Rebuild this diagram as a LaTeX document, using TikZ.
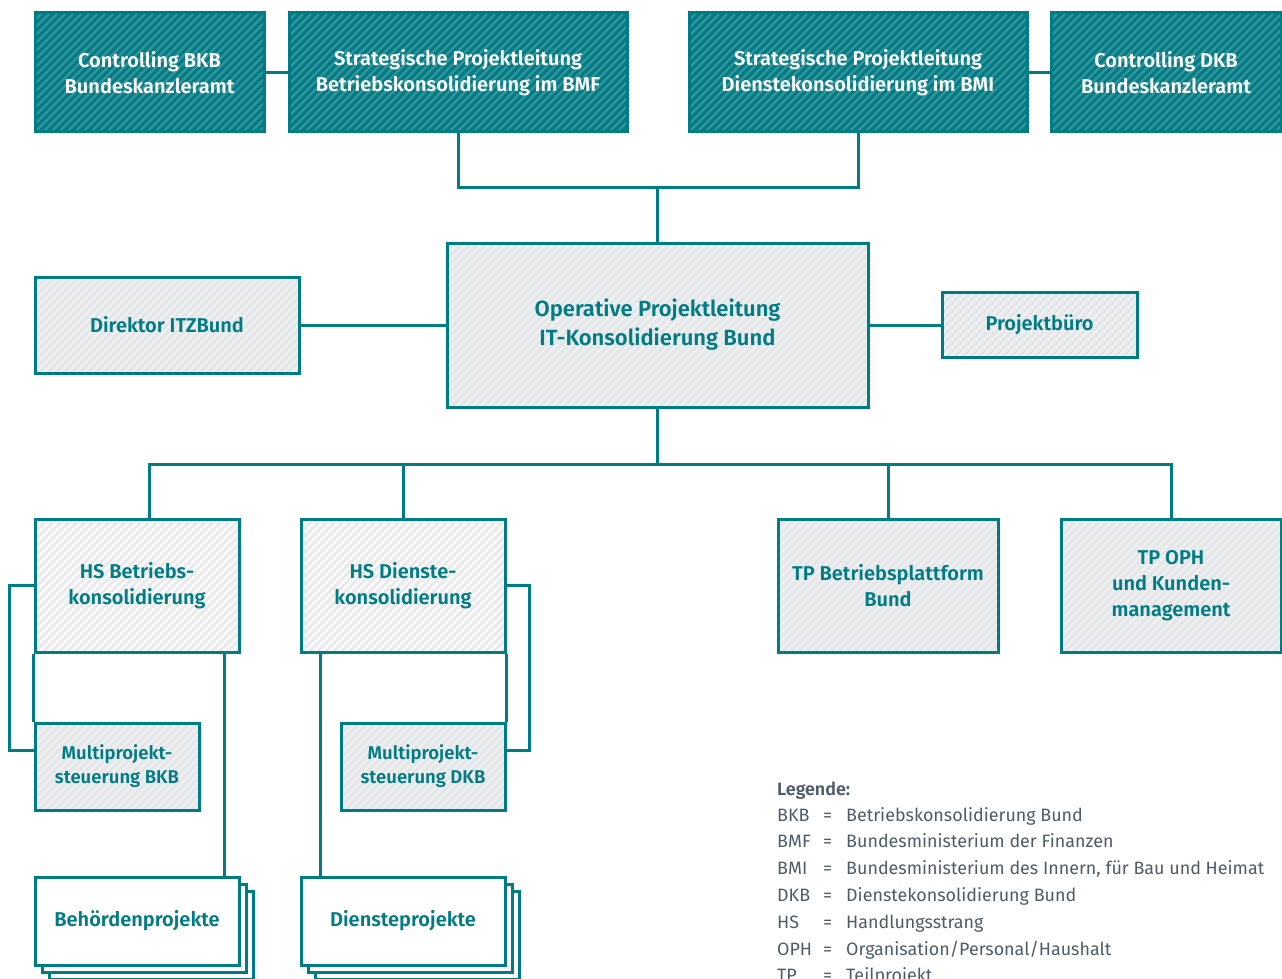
\documentclass[tikz,border=0pt]{standalone}
\usepackage{fontspec}
\setmainfont{Fira Sans}[BoldFont={Fira Sans SemiBold}]
\usetikzlibrary{calc}
\definecolor{teal1}{HTML}{007C85}
\definecolor{tealstripe}{HTML}{3A9298}
\definecolor{greyfill}{HTML}{E4E6E8}
\definecolor{greystripe}{HTML}{EFF0F1}
\definecolor{whitefill}{HTML}{F8F8F8}
\definecolor{whitestripe}{HTML}{E7E8E9}
\definecolor{legendgrey}{HTML}{4D5C68}
\tikzset{
  hatch/.style 2 args={fill=#1, path picture={
     \foreach \i in {-200,-192,...,440}{
       \draw[#2,line width=2.4pt] ([xshift=\i pt]path picture bounding box.south west) -- ++(260pt,260pt);}}},
  box/.style={draw=teal1, line width=3pt, inner sep=0pt, align=center, font=\bfseries\fontsize{20}{26}\selectfont},
  darkbox/.style={box, hatch={teal1}{tealstripe}, text=white},
  greybox/.style={box, hatch={greyfill}{greystripe}, text=teal1},
  lightbox/.style={box, hatch={whitefill}{whitestripe}, text=teal1},
  plainbox/.style={box, fill=white, text=teal1},
  conn/.style={draw=teal1, line width=3pt},
  legtext/.style={text=legendgrey, font=\fontsize{17.9}{20}\selectfont, inner sep=0pt, anchor=base west},
}
\begin{document}
\begin{tikzpicture}[x=1pt,y=-1pt]
\useasboundingbox (0,0) rectangle (1282,979);

% top row
\node[darkbox, minimum width=229, minimum height=119] (cbkb) at (149.5,72.5) {Controlling BKB\\Bundeskanzleramt};
\node[darkbox, minimum width=338, minimum height=119] (bmf) at (458,72.5) {Strategische Projektleitung\\Betriebskonsolidierung im BMF};
\node[darkbox, minimum width=338, minimum height=119] (bmi) at (858,72.5) {Strategische Projektleitung\\Dienstekonsolidierung im BMI};
\node[darkbox, minimum width=230, minimum height=119] (cdkb) at (1166,72.5) {Controlling DKB\\Bundeskanzleramt};

% middle row
\node[greybox, minimum width=421, minimum height=164, font=\bfseries\fontsize{22}{29}\selectfont] (op) at (657.5,325) {Operative Projektleitung\\IT-Konsolidierung Bund};
\node[greybox, minimum width=264, minimum height=96] (dir) at (167,325) {Direktor ITZBund};
\node[greybox, minimum width=195, minimum height=65] (pb) at (1039.5,325) {Projektbüro};

% third row
\node[lightbox, minimum width=204, minimum height=133] (hsb) at (137,585.5) {HS Betriebs-\\konsolidierung};
\node[lightbox, minimum width=204, minimum height=133] (hsd) at (403,585.5) {HS Dienste-\\konsolidierung};
\node[greybox, minimum width=220, minimum height=133] (tpb) at (888,585.5) {TP Betriebsplattform\\Bund};
\node[greybox, minimum width=220, minimum height=133] (tpo) at (1171,585.5) {TP OPH\\und Kunden-\\management};

% multiprojekt
\node[greybox, minimum width=164, minimum height=87, font=\bfseries\fontsize{18.5}{24}\selectfont] (mbkb) at (117,766.5) {Multiprojekt-\\steuerung BKB};
\node[greybox, minimum width=164, minimum height=87, font=\bfseries\fontsize{18.5}{24}\selectfont] (mdkb) at (423,766.5) {Multiprojekt-\\steuerung DKB};

% stacked project boxes
\node[plainbox, minimum width=204, minimum height=88] (beh3) at (151,935) {};
\node[plainbox, minimum width=204, minimum height=88] (beh2) at (144,928) {};
\node[plainbox, minimum width=204, minimum height=88] (beh) at (137,921) {Behördenprojekte};
\node[plainbox, minimum width=204, minimum height=88] (die3) at (417,935) {};
\node[plainbox, minimum width=204, minimum height=88] (die2) at (410,928) {};
\node[plainbox, minimum width=204, minimum height=88] (die) at (403,921) {Diensteprojekte};

% connectors
\coordinate (j1) at (657.5,187);
\coordinate (j2) at (657.5,464);
\draw[conn] (cbkb.east) -- (bmf.west);
\draw[conn] (bmi.east) -- (cdkb.west);
\draw[conn] (bmf.south) |- (j1) -| (bmi.south);
\draw[conn] (j1) -- (op.north);
\draw[conn] (dir.east) -- (op.west);
\draw[conn] (op.east) -- (pb.west);
\draw[conn] (op.south) -- (j2);
\draw[conn] ([xshift=12]hsb.north) |- (j2) -| (tpo.north);
\draw[conn] (hsd.north) -- (hsd.north |- j2);
\draw[conn] (tpb.north) -- (tpb.north |- j2);
% brackets
\coordinate (bl) at (9,750);
\coordinate (br) at (529,750);
\draw[conn] (hsb.west) -| (bl) -- (bl -| mbkb.west);
\draw[conn] (hsb.south west) -- (mbkb.north west);
\draw[conn] (hsd.east) -| (br) -- (br -| mdkb.east);
\draw[conn] (hsd.south east) -- (mdkb.north east);
% to projects
\draw[conn] ([xshift=87]hsb.south) -- ([xshift=87]beh.north);
\draw[conn] ([xshift=-83]hsd.south) -- ([xshift=-83]die.north);

% legend
\node[legtext, font=\bfseries\fontsize{17.9}{20}\selectfont] (legtitle) at (777,795) {Legende:};
\foreach \ab/\de [count=\k] in {BKB/Betriebskonsolidierung Bund, BMF/Bundesministerium der Finanzen, BMI/{Bundesministerium des Innern, für Bau und Heimat}, DKB/Dienstekonsolidierung Bund, HS/Handlungsstrang, OPH/{Organisation/Personal/Haushalt}, TP/Teilprojekt}{
  \node[legtext] (lab\k) at (777,{821+(\k-1)*26.8}) {\ab};
  \node[legtext] (eq\k) at (823,{821+(\k-1)*26.8}) {=};
  \node[legtext] (def\k) at (846,{821+(\k-1)*26.8}) {\de};
}
\end{tikzpicture}
\end{document}
